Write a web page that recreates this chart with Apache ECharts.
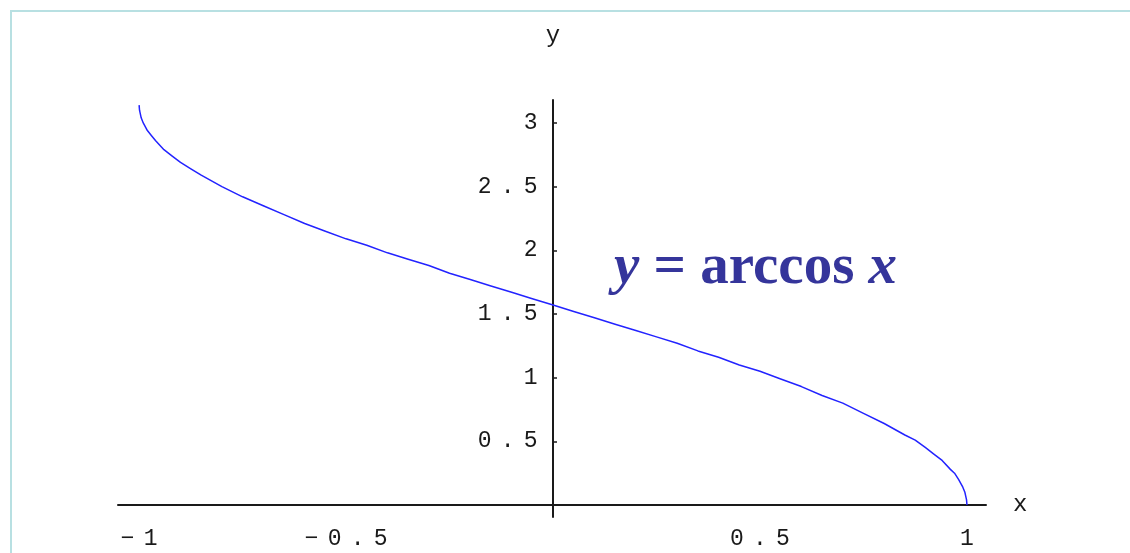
<!DOCTYPE html>
<html>
<head>
<meta charset="utf-8">
<script src="https://cdn.jsdelivr.net/npm/echarts@6/dist/echarts.min.js"></script>
<style>
  html, body { margin: 0; padding: 0; background: #ffffff; }
  #chart { width: 1130px; height: 553px; }
</style>
</head>
<body>
<div id="chart"></div>
<script>
// Sampled points of the inverse cosine curve
const xValues = [-1, -0.999, -0.995, -0.99, -0.98, -0.97, -0.96, -0.94, -0.92, -0.9, -0.875, -0.85, -0.8, -0.75,
                 -0.7, -0.65, -0.6, -0.55, -0.5, -0.45, -0.4, -0.35, -0.3, -0.25, -0.2, -0.15, -0.1, -0.05, 0,
                 0.05, 0.1, 0.15, 0.2, 0.25, 0.3, 0.35, 0.4, 0.45, 0.5, 0.55, 0.6, 0.65, 0.7, 0.75, 0.8, 0.85,
                 0.875, 0.9, 0.92, 0.94, 0.96, 0.97, 0.98, 0.99, 0.995, 0.999, 1];
const yValues = [3.14, 3.10, 3.04, 3.00, 2.94, 2.90, 2.86, 2.79, 2.74, 2.69, 2.64, 2.59, 2.50, 2.42,
                 2.35, 2.28, 2.21, 2.15, 2.09, 2.04, 1.98, 1.93, 1.88, 1.82, 1.77, 1.72, 1.67, 1.62, 1.57,
                 1.52, 1.47, 1.42, 1.37, 1.32, 1.27, 1.21, 1.16, 1.10, 1.05, 0.99, 0.93, 0.86, 0.80, 0.72, 0.64, 0.55,
                 0.51, 0.45, 0.40, 0.35, 0.28, 0.25, 0.20, 0.14, 0.10, 0.04, 0];

// Tick marks and their labels
const xTicks = [-1, -0.5, 0.5, 1];
const xTickLabels = ['−1', '−0.5', '0.5', '1'];
const yTicks = [0.5, 1, 1.5, 2, 2.5, 3];
const yTickLabels = ['0.5', '1', '1.5', '2', '2.5', '3'];

const curveName = 'y = arccos x';

const points = xValues.map((x, i) => [x, yValues[i]]);

// Spread every character into a fixed-width cell, like an old plotting font
function spaced(str) {
  return Array.from(str).map(ch => '{c|' + ch + '}').join('');
}
const monoRich = {
  c: {
    fontFamily: 'Liberation Mono',
    fontSize: 23,
    color: '#1a1a1a',
    width: 23,
    align: 'center'
  }
};

const GRID_LEFT = 118, GRID_RIGHT = 144, GRID_TOP = 100, GRID_BOTTOM = 36;
const WIDTH = 1130, HEIGHT = 553;

const chart = echarts.init(document.getElementById('chart'), null, { renderer: 'canvas' });

chart.setOption({
  animation: false,
  backgroundColor: '#ffffff',
  grid: {
    left: GRID_LEFT, right: GRID_RIGHT, top: GRID_TOP, bottom: GRID_BOTTOM,
    containLabel: false, outerBoundsMode: 'none'
  },
  xAxis: {
    type: 'value',
    position: 'bottom',
    min: -1.051,
    max: 1.046,
    name: 'x',
    nameLocation: 'end',
    nameGap: 27,
    nameTextStyle: { fontFamily: 'Liberation Mono', fontSize: 24, color: '#1a1a1a', verticalAlign: 'middle' },
    axisLine: { show: true, onZero: false, lineStyle: { color: '#1a1a1a', width: 2 } },
    axisTick: { show: false },
    splitLine: { show: false },
    axisLabel: {
      customValues: xTicks,
      margin: 22,
      formatter: v => spaced(xTickLabels[xTicks.indexOf(v)] ?? ''),
      rich: monoRich
    }
  },
  yAxis: {
    type: 'value',
    position: 'left',
    min: -0.094,
    max: 3.18,
    name: 'y',
    nameLocation: 'end',
    nameGap: 64,
    nameTextStyle: { fontFamily: 'Liberation Mono', fontSize: 24, color: '#1a1a1a', align: 'center', verticalAlign: 'middle' },
    axisLine: { show: true, onZero: false, lineStyle: { color: '#1a1a1a', width: 2 } },
    axisTick: { show: true, inside: true, length: 4, customValues: yTicks, lineStyle: { color: '#1a1a1a', width: 1.5 } },
    splitLine: { show: false },
    axisLabel: {
      customValues: yTicks,
      margin: 11,
      formatter: v => spaced(yTickLabels[yTicks.indexOf(v)] ?? ''),
      rich: monoRich
    }
  },
  series: [{
    name: curveName,
    type: 'line',
    data: points,
    showSymbol: false,
    smooth: false,
    lineStyle: { color: '#2323ff', width: 1.5 },
    z: 3
  }],
  graphic: [
    {
      type: 'rect',
      shape: { x: 11, y: 11, width: 1300, height: 700 },
      style: { fill: 'none', stroke: '#b8e0e2', lineWidth: 2 },
      silent: true,
      z: 0
    },
    {
      type: 'text',
      left: 614,
      top: 240,
      style: {
        text: '{i|y}{n| = arccos }{i|x}',
        rich: {
          i: { fontFamily: 'Liberation Serif', fontStyle: 'italic', fontWeight: 'bold', fontSize: 57, fill: '#35359b' },
          n: { fontFamily: 'Liberation Serif', fontWeight: 'bold', fontSize: 57, fill: '#35359b' }
        }
      },
      z: 10
    }
  ]
});

// Move both axes so they cross at the origin, labels included
const origin = chart.convertToPixel({ gridIndex: 0 }, [0, 0]);
chart.setOption({
  xAxis: { offset: origin[1] - (HEIGHT - GRID_BOTTOM) },
  yAxis: { offset: GRID_LEFT - origin[0] }
});
</script>
</body>
</html>
